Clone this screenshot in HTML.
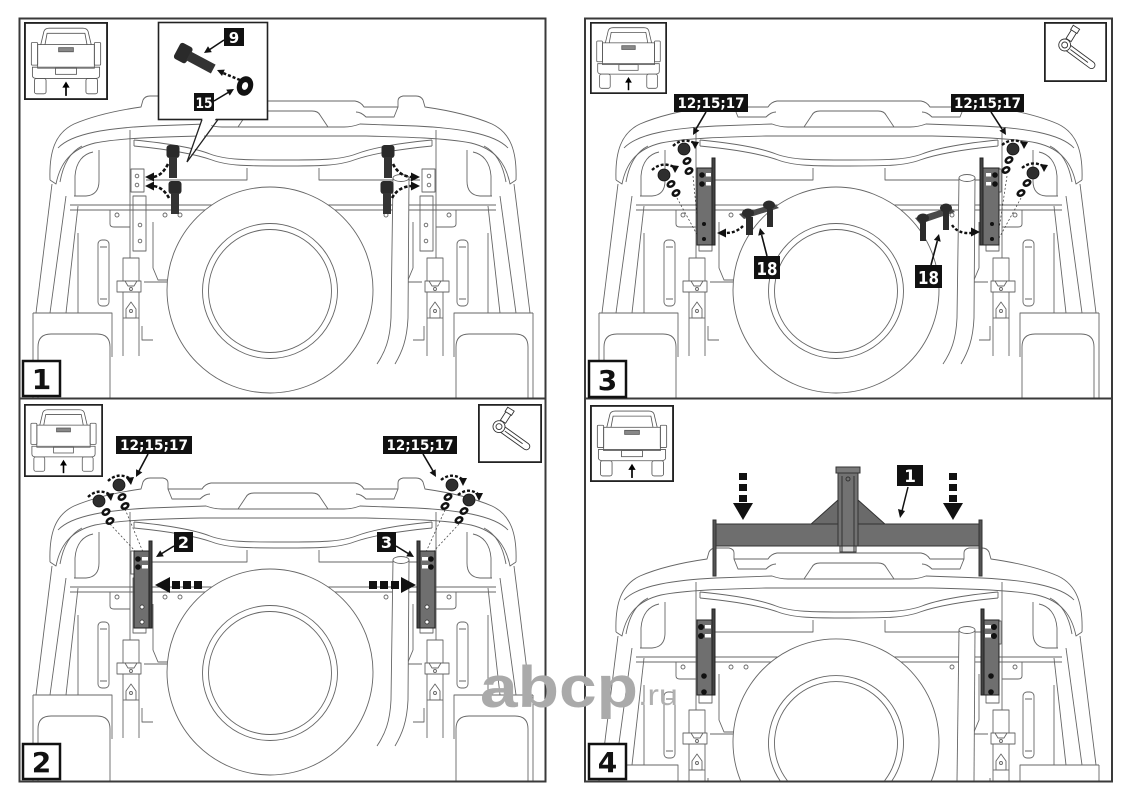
<!DOCTYPE html>
<html><head><meta charset="utf-8"><style>html,body{margin:0;padding:0;background:#fff;width:1131px;height:800px;overflow:hidden;}svg{display:block}</style></head>
<body>
<svg width="1131" height="800" viewBox="0 0 1131 800" xmlns="http://www.w3.org/2000/svg" xmlns:xlink="http://www.w3.org/1999/xlink">
<defs>
<g id="halfTop" fill="none" stroke="#666" stroke-width="0.9" stroke-linejoin="round">
 <path d="M50 180 C49 152 55 133 74 124 C95 115 120 110 141 107 L143 100 Q145 96 150 96 L163 96 Q168 97 168 101 L168 107 L202 107 Q205 102 211 101 L283 101"/>
 <path d="M50 180 L56 184 C60 164 70 149 95 143 C120 138 160 137 200 136 L283 136"/>
 <path d="M58 148 C72 133 110 128 150 126 L206 124 Q214 127 222 127 L283 127"/>
 <path d="M238 127 L246 115 Q248 111 254 111 L283 111"/>
 <path d="M168 107 L172 117 L200 117 Q205 112 210 112"/>
 <path d="M134 140 C165 143 192 147 210 154 C226 160 246 160 283 160"/>
 <path d="M134 146 C165 149 192 153 212 160 C228 166 248 166 283 166"/>
 <path d="M134 140 L134 146"/>
 <path d="M146 180 L247 180 L247 168"/>
 <path d="M99 150 L99 181 Q99 195 86 196 L74 196"/>
 <path d="M93 152 C83 154 76 162 75 176 L75 196"/>
 <path d="M60 182 C63 165 70 152 82 146"/>
 <path d="M52 184 L36 313"/>
 <path d="M66 196 L50 313"/>
 <path d="M78 206 L66 313"/>
 <path d="M70 205 L283 205 M70 210 L283 210"/>
 <path d="M110 210 L110 224 Q110 227 114 227 L130 227"/>
 <circle cx="117" cy="215" r="2"/><circle cx="165" cy="215" r="2"/><circle cx="180" cy="215" r="2"/>
 <path d="M130 130 L130 258 M153 222 L153 268 L158 280 L168 280"/>
 <rect x="131" y="169" width="13" height="23"/>
 <circle cx="137" cy="176" r="1.8"/><circle cx="137" cy="185" r="1.8"/>
 <rect x="133" y="196" width="13" height="55"/>
 <circle cx="140" cy="225" r="1.8"/><circle cx="140" cy="241" r="1.8"/>
 <rect x="123" y="258" width="16" height="23"/>
 <path d="M117 281 L125 281 L128 286 L134 286 L137 281 L141 281 L141 292 L117 292 Z"/>
 <circle cx="131" cy="289" r="1.5"/>
 <path d="M126 318 L126 309 L131 302 L136 309 L136 318 Z"/>
 <circle cx="131" cy="311" r="1.5"/>
 <path d="M123 318 L139 318"/>
 <rect x="98" y="240" width="11" height="66" rx="4"/>
 <path d="M100 247 L107 247 M100 299 L107 299"/>
 <path d="M78 233 L78 313"/>
 <path d="M144 282 L167 282"/>
</g>
<g id="halfLow" fill="none" stroke="#666" stroke-width="0.9" stroke-linejoin="round">
 <path d="M123 292 L123 356 M139 292 L139 356"/>
 <path d="M33 313 L112 313 L112 357 M33 313 L33 400"/>
 <path d="M38 400 L38 347 Q38 334 51 334 L97 334 Q110 334 110 347 L110 400"/>
 <path d="M142 326 L142 340 L153 340"/>
</g>
<g id="halfLow4" fill="none" stroke="#666" stroke-width="0.9" stroke-linejoin="round">
 <path d="M123 292 L123 329 M139 292 L139 329"/>
 <path d="M33 313 L112 313 L112 329 M33 313 L33 329"/>
 <path d="M142 326 L142 329"/>
</g>
<g id="car">
 <use href="#halfTop"/>
 <use href="#halfLow"/>
 <use href="#halfTop" transform="translate(566,0) scale(-1,1)"/>
 <use href="#halfLow" transform="translate(566,0) scale(-1,1)"/>
 <g fill="none" stroke="#666" stroke-width="0.9">
  <circle cx="270" cy="290" r="103" fill="#fff"/>
  <circle cx="270" cy="291" r="67.5"/>
  <circle cx="270" cy="291" r="61.5"/>
  <path d="M393 178 L391 318 C390 340 385 352 377 364 L395 364 C402 352 407 340 408 318 L409 178 Z" fill="#fff" stroke="none"/>
  <path d="M393 178 L391 318 C390 340 385 352 377 364"/>
  <path d="M409 178 L408 318 C407 340 402 352 395 364"/>
  <ellipse cx="401" cy="178" rx="8" ry="3.5" fill="#fff"/>
 </g>
</g>
<g id="car4">
 <use href="#halfTop"/>
 <use href="#halfLow4"/>
 <use href="#halfTop" transform="translate(566,0) scale(-1,1)"/>
 <use href="#halfLow4" transform="translate(566,0) scale(-1,1)"/>
 <g fill="none" stroke="#666" stroke-width="0.9">
  <path d="M174.7 329 A103 103 0 1 1 365.3 329 Z" fill="#fff" stroke="none"/>
  <path d="M174.7 329 A103 103 0 1 1 365.3 329"/>
  <path d="M214.2 329 A67.5 67.5 0 1 1 325.8 329"/>
  <path d="M221.6 329 A61.5 61.5 0 1 1 318.4 329"/>
  <path d="M393 178 L391 329 L408 329 L409 178 Z" fill="#fff" stroke="none"/>
  <path d="M393 178 L391 329"/>
  <path d="M409 178 L408 329"/>
  <ellipse cx="401" cy="178" rx="8" ry="3.5" fill="#fff"/>
 </g>
</g>
<symbol id="truck" viewBox="0 0 80 76" preserveAspectRatio="none">
 <rect x="0.9" y="0.9" width="78.2" height="74.2" fill="#fff" stroke="#222" stroke-width="1.8"/>
 <g fill="none" stroke="#555" stroke-width="0.8">
  <path d="M16 22 L19 9 Q20 6 24 6 L56 6 Q60 6 61 9 L64 22"/>
  <path d="M20 22 L22 11 L58 11 L60 22"/>
  <rect x="7" y="20" width="6" height="22" rx="1"/><rect x="67" y="20" width="6" height="22" rx="1"/>
  <rect x="13" y="22" width="54" height="23"/>
  <rect x="33" y="25" width="14" height="4" fill="#888"/>
  <path d="M8 44 L72 44 L72 52 Q72 55 68 55 L12 55 Q8 55 8 52 Z"/>
  <rect x="30" y="45" width="20" height="6"/>
  <rect x="10" y="55" width="11" height="15" rx="2"/><rect x="59" y="55" width="11" height="15" rx="2"/>
 </g>
 <path d="M40 72 L40 63" stroke="#000" stroke-width="1.6"/>
 <polygon points="36.5,64 43.5,64 40,58" fill="#000"/>
</symbol>
<symbol id="tool" viewBox="0 0 64 60" preserveAspectRatio="none">
 <rect x="0.9" y="0.9" width="62.2" height="58.2" fill="#fff" stroke="#222" stroke-width="1.8"/>
 <g fill="#fff" stroke="#333" stroke-width="0.9">
  <g transform="translate(22,24) rotate(36)"><rect x="0" y="-3.5" width="36" height="7" rx="3.5"/><line x1="6" y1="0" x2="28" y2="0"/></g>
  <g transform="translate(25,18) rotate(-58)"><rect x="0" y="-3" width="11" height="6"/><rect x="10" y="-3.8" width="5" height="7.6"/></g>
  <circle cx="21" cy="23" r="6"/><circle cx="21" cy="23" r="3"/>
 </g>
</symbol>
<g id="bolt"><rect x="-6.5" y="-7" width="13" height="13" rx="3" fill="#2a2a2a"/><rect x="-4" y="5" width="8" height="21" fill="#333"/></g>
<g id="nut"><circle r="6" fill="#2e2e2e" stroke="#111" stroke-width="0.8"/></g>
<g id="wsh"><g transform="rotate(-30)"><ellipse rx="4.8" ry="3.6" fill="#111"/><ellipse rx="2" ry="1.2" fill="#fff"/></g></g>
<clipPath id="c1"><rect x="20" y="19" width="525" height="379"/></clipPath>
<clipPath id="c2"><rect x="20" y="399" width="525" height="382"/></clipPath>
<clipPath id="c3"><rect x="586" y="19" width="525" height="379"/></clipPath>
<clipPath id="c4"><rect x="586" y="399" width="525" height="382"/></clipPath>
</defs>

<rect width="1131" height="800" fill="#fff"/>

<g clip-path="url(#c1)"><use href="#car"/></g>
<g clip-path="url(#c2)"><use href="#car" transform="translate(0,382)"/></g>
<g clip-path="url(#c3)"><use href="#car" transform="translate(566,0)"/></g>
<g clip-path="url(#c4)"><use href="#car4" transform="translate(566,452)"/></g>

<g fill="none" stroke="#3a3a3a" stroke-width="2">
 <rect x="19.5" y="18.5" width="526" height="380"/>
 <rect x="19.5" y="398.5" width="526" height="383"/>
 <rect x="585" y="18.5" width="527" height="380"/>
 <rect x="585" y="398.5" width="527" height="383"/>
</g>

<!-- ============ PANEL 1 ============ -->
<use href="#truck" x="24" y="22" width="84" height="78"/>
<rect x="158.5" y="22.5" width="109" height="97" fill="#fff" stroke="#222" stroke-width="1.6"/>
<polygon points="203,117 217,117 187,161" fill="#fff"/>
<path d="M202 119.5 L187 162 L218 119.5" fill="none" stroke="#222" stroke-width="1.3"/>
<g transform="translate(185,54) rotate(28)">
 <rect x="-9" y="-9" width="14" height="18" rx="3" fill="#2a2a2a"/>
 <rect x="4" y="-5" width="28" height="10" fill="#333"/>
</g>
<g transform="translate(245,86) rotate(20)"><ellipse rx="8" ry="10" fill="#111"/><ellipse rx="3" ry="4" fill="#fff"/></g>
<path d="M240 80 L223 73" stroke="#111" stroke-width="2.5" stroke-dasharray="3 2"/>
<polygon points="217,70 224.8,69.6 222,76" fill="#111"/>
<rect x="224" y="28" width="20" height="18" fill="#111"/>
<text x="234" y="43" fill="#fff" font-family="DejaVu Sans, sans-serif" font-weight="bold" font-size="15" text-anchor="middle">9</text>
<line x1="224" y1="40" x2="209" y2="50" stroke="#111" stroke-width="1.6"/>
<polygon points="204,53 211.8,52.1 208,46.3" fill="#111"/>
<rect x="194" y="93" width="20" height="18" fill="#111"/>
<text x="204" y="108" fill="#fff" font-family="DejaVu Sans, sans-serif" font-weight="bold" font-size="14" text-anchor="middle" textLength="17" lengthAdjust="spacingAndGlyphs">15</text>
<line x1="214" y1="101" x2="229" y2="92" stroke="#111" stroke-width="1.6"/>
<polygon points="234,89 229.8,95.6 226.2,89.6" fill="#111"/>

<use href="#bolt" transform="translate(173,152)"/>
<use href="#bolt" transform="translate(175,188)"/>
<use href="#bolt" transform="translate(388,152)"/>
<use href="#bolt" transform="translate(387,188)"/>
<g fill="none" stroke="#111" stroke-width="2.6" stroke-dasharray="3.5 2">
 <path d="M168 164 Q162 176 153 177"/>
 <path d="M169 198 Q163 187 153 186"/>
 <path d="M393 164 Q399 176 411 177"/>
 <path d="M392 198 Q398 187 411 186"/>
</g>
<g fill="#111">
 <polygon points="145,177 154,172.5 154,181.5"/>
 <polygon points="145,186 154,181.5 154,190.5"/>
 <polygon points="420,177 411,172.5 411,181.5"/>
 <polygon points="420,186 411,181.5 411,190.5"/>
</g>
<rect x="23" y="361" width="37" height="35" fill="#fff" stroke="#111" stroke-width="2.5"/>
<text x="41.5" y="389" font-family="DejaVu Sans, sans-serif" font-weight="bold" font-size="28" text-anchor="middle" fill="#111">1</text>

<!-- ============ PANEL 2 ============ -->
<use href="#truck" x="24" y="404" width="79" height="73"/>
<use href="#tool" x="478" y="404" width="64" height="59"/>
<g stroke="#333" stroke-width="0.7" stroke-dasharray="2 2" fill="none">
 <path d="M110 524 L136 552 M125 509 L143 552 M459 524 L433 552 M445 510 L426 552"/>
</g>
<g stroke="#222" stroke-width="1">
 <rect x="134" y="551" width="16" height="77" fill="#6f6f6f"/>
 <rect x="149" y="541" width="3" height="87" fill="#444"/>
 <rect x="419" y="551" width="16" height="77" fill="#6f6f6f"/>
 <rect x="417" y="541" width="3" height="87" fill="#444"/>
</g>
<g fill="#111"><circle cx="138" cy="559" r="2.8"/><circle cx="138" cy="567" r="2.8"/><circle cx="431" cy="559" r="2.8"/><circle cx="431" cy="567" r="2.8"/></g>
<g fill="#fff"><rect x="142" y="557" width="6" height="3.5"/><rect x="142" y="565" width="6" height="3.5"/><rect x="422" y="557" width="6" height="3.5"/><rect x="422" y="565" width="6" height="3.5"/></g>
<g fill="#fff" stroke="#222" stroke-width="0.7"><circle cx="142" cy="607" r="2"/><circle cx="142" cy="622" r="2"/><circle cx="427" cy="607" r="2"/><circle cx="427" cy="622" r="2"/></g>
<use href="#nut" transform="translate(119,485)"/>
<use href="#nut" transform="translate(99,501)"/>
<use href="#nut" transform="translate(452,485)"/>
<use href="#nut" transform="translate(469,500)"/>
<use href="#wsh" transform="translate(122,497)"/>
<use href="#wsh" transform="translate(125,506)"/>
<use href="#wsh" transform="translate(106,512)"/>
<use href="#wsh" transform="translate(110,521)"/>
<use href="#wsh" transform="translate(448,497)"/>
<use href="#wsh" transform="translate(445,506)"/>
<use href="#wsh" transform="translate(464,511)"/>
<use href="#wsh" transform="translate(459,520)"/>
<g fill="none" stroke="#111" stroke-width="2.4" stroke-dasharray="3 2">
 <path d="M108 481 Q118 472 129 478"/>
 <path d="M88 497 Q98 488 109 494"/>
 <path d="M441 480 Q451 472 462 479"/>
 <path d="M458 495 Q468 487 478 494"/>
</g>
<g fill="#111">
 <polygon points="126,478 134,477 131,485"/>
 <polygon points="106,494 114,493 111,501"/>
 <polygon points="459,478 467,478 463,486"/>
 <polygon points="475,493 483,493 479,501"/>
</g>
<rect x="116" y="436" width="76" height="18" fill="#111"/>
<text x="154" y="450" fill="#fff" font-family="DejaVu Sans, sans-serif" font-weight="bold" font-size="14" text-anchor="middle" textLength="68" lengthAdjust="spacingAndGlyphs">12;15;17</text>
<rect x="383" y="436" width="74" height="18" fill="#111"/>
<text x="420" y="450" fill="#fff" font-family="DejaVu Sans, sans-serif" font-weight="bold" font-size="14" text-anchor="middle" textLength="67" lengthAdjust="spacingAndGlyphs">12;15;17</text>
<line x1="148" y1="454" x2="139" y2="471" stroke="#111" stroke-width="1.6"/>
<polygon points="136,477 142.3,472.4 136.1,469.2" fill="#111"/>
<line x1="423" y1="454" x2="433" y2="471" stroke="#111" stroke-width="1.6"/>
<polygon points="436,477 435.6,469.2 429.6,472.6" fill="#111"/>
<rect x="174" y="532" width="19" height="20" fill="#111"/>
<text x="183.5" y="548" fill="#fff" font-family="DejaVu Sans, sans-serif" font-weight="bold" font-size="16" text-anchor="middle">2</text>
<line x1="174" y1="546" x2="161" y2="554" stroke="#111" stroke-width="1.6"/>
<polygon points="156,557 163.8,556.4 160.2,550.4" fill="#111"/>
<rect x="377" y="532" width="19" height="20" fill="#111"/>
<text x="386.5" y="548" fill="#fff" font-family="DejaVu Sans, sans-serif" font-weight="bold" font-size="16" text-anchor="middle">3</text>
<line x1="396" y1="546" x2="409" y2="554" stroke="#111" stroke-width="1.6"/>
<polygon points="414,557 406.2,556.4 409.8,550.4" fill="#111"/>
<g fill="#111">
 <polygon points="155,585 170,577 170,593"/>
 <rect x="172" y="581" width="8" height="8"/><rect x="183" y="581" width="8" height="8"/><rect x="194" y="581" width="8" height="8"/>
 <polygon points="416,585 401,577 401,593"/>
 <rect x="369" y="581" width="8" height="8"/><rect x="380" y="581" width="8" height="8"/><rect x="391" y="581" width="8" height="8"/>
</g>
<rect x="23" y="744" width="37" height="35" fill="#fff" stroke="#111" stroke-width="2.5"/>
<text x="41.5" y="772" font-family="DejaVu Sans, sans-serif" font-weight="bold" font-size="28" text-anchor="middle" fill="#111">2</text>

<!-- ============ PANEL 3 ============ -->
<use href="#truck" x="590" y="22" width="77" height="72"/>
<use href="#tool" x="1044" y="22" width="63" height="60"/>
<g stroke="#333" stroke-width="0.7" stroke-dasharray="2 2" fill="none">
 <path d="M677 198 L700 240 M693 176 L699 236 M1021 198 L998 240 M1007 176 L998 236"/>
</g>
<g stroke="#222" stroke-width="1">
 <rect x="697" y="168" width="16" height="77" fill="#6f6f6f"/>
 <rect x="712" y="158" width="3" height="87" fill="#444"/>
 <rect x="983" y="168" width="16" height="77" fill="#6f6f6f"/>
 <rect x="980" y="158" width="3" height="87" fill="#444"/>
</g>
<g fill="#111"><circle cx="702" cy="175" r="2.8"/><circle cx="702" cy="184" r="2.8"/><circle cx="995" cy="175" r="2.8"/><circle cx="995" cy="184" r="2.8"/>
<circle cx="704" cy="224" r="2"/><circle cx="704" cy="239" r="2"/><circle cx="992" cy="224" r="2"/><circle cx="992" cy="239" r="2"/></g>
<g fill="#fff"><rect x="706" y="173" width="5" height="3.5"/><rect x="706" y="182" width="5" height="3.5"/><rect x="986" y="173" width="5" height="3.5"/><rect x="986" y="182" width="5" height="3.5"/></g>
<use href="#nut" transform="translate(684,149)"/>
<use href="#nut" transform="translate(664,175)"/>
<use href="#nut" transform="translate(1013,149)"/>
<use href="#nut" transform="translate(1033,173)"/>
<use href="#wsh" transform="translate(687,161)"/>
<use href="#wsh" transform="translate(689,171)"/>
<use href="#wsh" transform="translate(671,184)"/>
<use href="#wsh" transform="translate(676,193)"/>
<use href="#wsh" transform="translate(1009,160)"/>
<use href="#wsh" transform="translate(1006,170)"/>
<use href="#wsh" transform="translate(1027,183)"/>
<use href="#wsh" transform="translate(1021,193)"/>
<g fill="none" stroke="#111" stroke-width="2.4" stroke-dasharray="3 2">
 <path d="M673 146 Q683 137 694 143"/>
 <path d="M652 170 Q662 161 674 167"/>
 <path d="M1002 145 Q1012 137 1023 143"/>
 <path d="M1022 168 Q1032 160 1043 166"/>
</g>
<g fill="#111">
 <polygon points="691,141 699,142 695,149"/>
 <polygon points="671,165 679,166 675,173"/>
 <polygon points="1020,141 1028,142 1024,149"/>
 <polygon points="1040,164 1048,165 1044,172"/>
</g>
<rect x="674" y="94" width="74" height="18" fill="#111"/>
<text x="711" y="108" fill="#fff" font-family="DejaVu Sans, sans-serif" font-weight="bold" font-size="14" text-anchor="middle" textLength="67" lengthAdjust="spacingAndGlyphs">12;15;17</text>
<rect x="951" y="94" width="73" height="18" fill="#111"/>
<text x="987.5" y="108" fill="#fff" font-family="DejaVu Sans, sans-serif" font-weight="bold" font-size="14" text-anchor="middle" textLength="67" lengthAdjust="spacingAndGlyphs">12;15;17</text>
<line x1="706" y1="112" x2="696" y2="129" stroke="#111" stroke-width="1.6"/>
<polygon points="693,135 699.4,130.6 693.4,127.2" fill="#111"/>
<line x1="991" y1="112" x2="1002" y2="129" stroke="#111" stroke-width="1.6"/>
<polygon points="1006,135 1005.4,127.2 999.4,130.8" fill="#111"/>
<g fill="#2c2c2c">
 <polygon points="739,214 774,204 779,208 744,219" fill="#4a4a4a"/>
 <rect x="746" y="217" width="7" height="18"/><rect x="767" y="209" width="6" height="18"/>
 <ellipse cx="748" cy="213" rx="6" ry="4.5"/><ellipse cx="769" cy="205" rx="6" ry="4.5"/>
 <polygon points="915,218 950,207 955,212 920,224" fill="#4a4a4a"/>
 <rect x="920" y="222" width="6" height="19"/><rect x="943" y="211" width="6" height="19"/>
 <ellipse cx="923" cy="218" rx="6" ry="4.5"/><ellipse cx="946" cy="208" rx="6" ry="4.5"/>
</g>
<g fill="none" stroke="#111" stroke-width="2.4" stroke-dasharray="3 2">
 <path d="M743 226 Q736 233 726 233"/>
 <path d="M952 225 Q958 234 971 233"/>
</g>
<g fill="#111">
 <polygon points="717,233 726,228.5 726,237.5"/>
 <polygon points="980,232 971,227.5 971,236.5"/>
</g>
<rect x="754" y="256" width="26" height="23" fill="#111"/>
<text x="767" y="275" fill="#fff" font-family="DejaVu Sans, sans-serif" font-weight="bold" font-size="18" text-anchor="middle" textLength="21" lengthAdjust="spacingAndGlyphs">18</text>
<line x1="767" y1="256" x2="761.6" y2="235" stroke="#111" stroke-width="1.6"/>
<polygon points="760,228 765,234 758.2,235.6" fill="#111"/>
<rect x="915" y="265" width="27" height="23" fill="#111"/>
<text x="928.5" y="284" fill="#fff" font-family="DejaVu Sans, sans-serif" font-weight="bold" font-size="18" text-anchor="middle" textLength="21" lengthAdjust="spacingAndGlyphs">18</text>
<line x1="931" y1="265" x2="937.3" y2="241" stroke="#111" stroke-width="1.6"/>
<polygon points="939,234 940.7,241.7 933.9,239.9" fill="#111"/>
<rect x="589" y="361" width="37" height="36" fill="#fff" stroke="#111" stroke-width="2.5"/>
<text x="607.5" y="390" font-family="DejaVu Sans, sans-serif" font-weight="bold" font-size="28" text-anchor="middle" fill="#111">3</text>

<!-- ============ PANEL 4 ============ -->
<use href="#truck" x="590" y="405" width="84" height="77"/>
<g stroke="#222" stroke-width="1">
 <rect x="697" y="620" width="16" height="75" fill="#6f6f6f"/>
 <rect x="712" y="609" width="3" height="86" fill="#444"/>
 <rect x="983" y="620" width="16" height="75" fill="#6f6f6f"/>
 <rect x="981" y="609" width="3" height="86" fill="#444"/>
</g>
<g fill="#111"><circle cx="701" cy="627" r="3"/><circle cx="701" cy="636" r="3"/><circle cx="704" cy="676" r="2.8"/><circle cx="704" cy="692" r="2.8"/>
<circle cx="994" cy="627" r="3"/><circle cx="994" cy="636" r="3"/><circle cx="991" cy="676" r="2.8"/><circle cx="991" cy="692" r="2.8"/></g>
<g fill="#fff"><rect x="705" y="625" width="6" height="3.5"/><rect x="705" y="634" width="6" height="3.5"/><rect x="985" y="625" width="6" height="3.5"/><rect x="985" y="634" width="6" height="3.5"/></g>
<g stroke="#333" stroke-width="1">
 <polygon points="810,525 838,500 838,525" fill="#6a6a6a"/>
 <polygon points="858,500 886,525 858,525" fill="#6a6a6a"/>
 <rect x="715" y="524" width="265" height="22" fill="#6e6e6e"/>
 <rect x="713" y="520" width="3" height="56" fill="#555"/>
 <rect x="979" y="520" width="3" height="56" fill="#555"/>
 <rect x="840" y="546" width="16" height="6" fill="#ddd"/>
 <rect x="838" y="472" width="20" height="74" fill="#727272"/>
 <line x1="842" y1="476" x2="842" y2="552"/><line x1="854" y1="476" x2="854" y2="552"/>
 <rect x="836" y="467" width="24" height="6" fill="#7a7a7a"/>
 <circle cx="848" cy="479" r="2" fill="none"/>
</g>
<g fill="#111">
 <rect x="739" y="473" width="8" height="7"/><rect x="739" y="484" width="8" height="7"/><rect x="739" y="495" width="8" height="7"/>
 <polygon points="733,503 753,503 743,520"/>
 <rect x="949" y="473" width="8" height="7"/><rect x="949" y="484" width="8" height="7"/><rect x="949" y="495" width="8" height="7"/>
 <polygon points="943,503 963,503 953,520"/>
</g>
<rect x="897" y="465" width="26" height="21" fill="#111"/>
<text x="910" y="482" fill="#fff" font-family="DejaVu Sans, sans-serif" font-weight="bold" font-size="17" text-anchor="middle">1</text>
<line x1="908" y1="487" x2="902" y2="511" stroke="#111" stroke-width="1.5"/>
<polygon points="900,518 898,509 905,511" fill="#111"/>
<rect x="589" y="744" width="37" height="35" fill="#fff" stroke="#111" stroke-width="2.5"/>
<text x="607.5" y="772" font-family="DejaVu Sans, sans-serif" font-weight="bold" font-size="28" text-anchor="middle" fill="#111">4</text>

<text x="480" y="707" font-family="Liberation Sans, sans-serif" font-weight="bold" font-size="58" fill="#aaaaaa" textLength="158" lengthAdjust="spacingAndGlyphs">abcp</text>
<text x="638" y="705" font-family="Liberation Sans, sans-serif" font-size="30" fill="#b0b0b0" textLength="40" lengthAdjust="spacingAndGlyphs">.ru</text>
</svg>
</body></html>
